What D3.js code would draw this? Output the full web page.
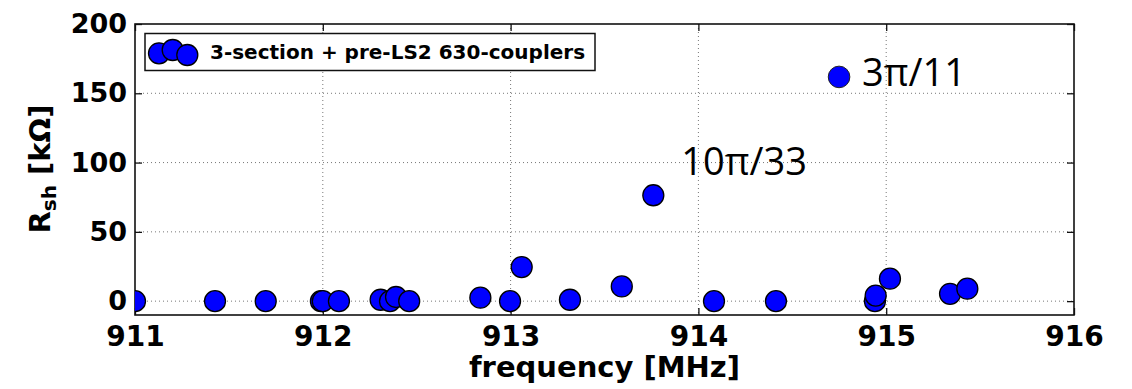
<!DOCTYPE html>
<html>
<head>
<meta charset="utf-8">
<script src="https://cdn.jsdelivr.net/npm/d3@7"></script>
<style>
  html, body { margin: 0; padding: 0; background: #fff; }
  svg { display: block; }
</style>
</head>
<body>
<div id="plot"></div>
<script>
// measured modes: frequency [MHz] and shunt impedance [kOhm]
const frequencies = [911.0, 911.426, 911.696, 911.99, 912.0, 912.086, 912.308, 912.358, 912.39, 912.46,
  912.839, 912.997, 913.059, 913.316, 913.592, 913.76, 914.083, 914.413, 914.94, 914.944, 915.02, 915.34, 915.432];
const rshValues = [0, 0, 0, 0, 0, 0, 1, 0, 3, 0,
  2.5, 0, 24.6, 1, 10.6, 76.4, 0, 0, 0, 4, 16.2, 5.3, 9];

const xTicks = [911, 912, 913, 914, 915, 916];
const yTicks = [0, 50, 100, 150, 200];
const seriesName = '3-section + pre-LS2 630-couplers';

// labelled modes
const annotLabels = ['10π/33', '3π/11'];
const annotFreqs = [913.76, 914.749];
const annotValues = [76.4, 161.8];
const annotHasMarker = [false, true];

const width = 1132;
const height = 389;
const margin = { left: 135, right: 58, top: 24, bottom: 74 };
const tickFont = 'DejaVu Sans, sans-serif';

const svg = d3.select('#plot').append('svg').attr('width', width).attr('height', height);

const x = d3.scaleLinear().domain([911, 916]).range([margin.left, width - margin.right]);
const y = d3.scaleLinear().domain([-10, 200]).range([height - margin.bottom, margin.top]);

const [x0, x1] = x.range();
const [y1, y0] = y.range();

svg.append('defs').append('clipPath').attr('id', 'clip')
  .append('rect').attr('x', x0).attr('y', y0).attr('width', x1 - x0).attr('height', y1 - y0);

// grid
const grid = svg.append('g').attr('stroke', '#777').attr('stroke-width', 1).attr('stroke-dasharray', '1,3');
grid.selectAll('line.gx').data(xTicks.slice(1, -1)).join('line')
  .attr('x1', d => x(d)).attr('x2', d => x(d)).attr('y1', y0).attr('y2', y1);
grid.selectAll('line.gy').data(yTicks.slice(0, -1)).join('line')
  .attr('y1', d => y(d)).attr('y2', d => y(d)).attr('x1', x0).attr('x2', x1);

// axes, ticks pointing inward on all four sides
const tickLen = 7;
const bottomAxis = svg.append('g').attr('transform', `translate(0,${y1})`)
  .call(d3.axisBottom(x).tickValues(xTicks).tickFormat(d3.format('d')).tickSizeInner(-tickLen).tickSizeOuter(0).tickPadding(11));
const leftAxis = svg.append('g').attr('transform', `translate(${x0},0)`)
  .call(d3.axisLeft(y).tickValues(yTicks).tickSizeInner(-tickLen).tickSizeOuter(0).tickPadding(8));
svg.append('g').attr('transform', `translate(0,${y0})`)
  .call(d3.axisTop(x).tickValues(xTicks).tickFormat('').tickSizeInner(-tickLen).tickSizeOuter(0));
svg.append('g').attr('transform', `translate(${x1},0)`)
  .call(d3.axisRight(y).tickValues(yTicks).tickFormat('').tickSizeInner(-tickLen).tickSizeOuter(0));

svg.selectAll('.domain').remove();
svg.selectAll('.tick line').attr('stroke', '#111').attr('stroke-width', 1.3);

bottomAxis.selectAll('text').attr('font-family', tickFont).attr('font-weight', 'bold')
  .attr('font-size', 28).attr('fill', '#000');
leftAxis.selectAll('text').attr('font-family', tickFont).attr('font-weight', 'bold')
  .attr('font-size', 27).attr('fill', '#000');

// frame
svg.append('rect').attr('x', x0).attr('y', y0).attr('width', x1 - x0).attr('height', y1 - y0)
  .attr('fill', 'none').attr('stroke', '#111').attr('stroke-width', 1.6);

// points
svg.append('g').attr('clip-path', 'url(#clip)')
  .selectAll('circle').data(frequencies).join('circle')
  .attr('cx', d => x(d))
  .attr('cy', (d, i) => y(rshValues[i]))
  .attr('r', 10.5)
  .attr('fill', '#0000ff')
  .attr('stroke', '#000')
  .attr('stroke-width', 1.3);

// annotations
const annotOffsets = [[28, -20], [23, 9]];
annotLabels.forEach((label, i) => {
  const px = x(annotFreqs[i]);
  const py = y(annotValues[i]);
  if (annotHasMarker[i]) {
    svg.append('circle').attr('cx', px).attr('cy', py).attr('r', 10.8)
      .attr('fill', '#0000ff').attr('stroke', '#222').attr('stroke-width', 1);
  }
  svg.append('text')
    .attr('x', px + annotOffsets[i][0])
    .attr('y', py + annotOffsets[i][1])
    .attr('font-family', 'Open Sans, sans-serif')
    .attr('font-size', 38)
    .attr('fill', '#000')
    .text(label);
});

// legend
const legend = svg.append('g');
legend.append('rect').attr('x', 145).attr('y', 33.5).attr('width', 450).attr('height', 37)
  .attr('fill', '#fff').attr('stroke', '#111').attr('stroke-width', 1.5);
const legendDots = [[159, 53.3], [172.7, 50], [187.3, 55]];
legend.selectAll('circle').data(legendDots).join('circle')
  .attr('cx', d => d[0]).attr('cy', d => d[1]).attr('r', 10.5)
  .attr('fill', '#0000ff').attr('stroke', '#000').attr('stroke-width', 1.3);
legend.append('text').attr('x', 210).attr('y', 59)
  .attr('font-family', tickFont).attr('font-weight', 'bold').attr('font-size', 20)
  .text(seriesName);

// axis titles
svg.append('text')
  .attr('x', (x0 + x1) / 2).attr('y', 377)
  .attr('text-anchor', 'middle')
  .attr('font-family', tickFont).attr('font-weight', 'bold').attr('font-size', 29)
  .text('frequency [MHz]');

const yTitle = svg.append('text')
  .attr('transform', `translate(50,169) rotate(-90)`)
  .attr('text-anchor', 'middle')
  .attr('font-family', tickFont).attr('font-weight', 'bold').attr('font-size', 29);
yTitle.append('tspan').text('R');
yTitle.append('tspan').attr('font-size', 20).attr('dy', 6).text('sh');
yTitle.append('tspan').attr('dy', -6).text(' [kΩ]');
</script>
</body>
</html>
